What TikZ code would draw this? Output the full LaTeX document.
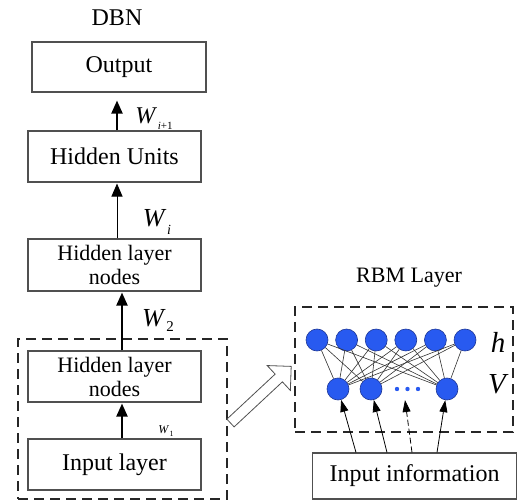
\documentclass[tikz,border=0pt]{standalone}
\usepackage{fontspec}
\setmainfont{Liberation Serif}
\usetikzlibrary{arrows.meta, positioning, calc}

\definecolor{unitblue}{RGB}{40,90,240}
\definecolor{unitedge}{RGB}{30,55,150}
\definecolor{boxgray}{RGB}{80,80,80}

% weight label: W size, subscript, subscript size, drop
\newcommand{\wlabel}[4]{\fontsize{#1}{#1}\selectfont\textit{W}\kern0.5pt\raisebox{-#4pt}{\fontsize{#3}{#3}\selectfont#2}}

\begin{document}
\begin{tikzpicture}[
    x=1pt, y=-1pt,
    layer/.style={rectangle, draw=boxgray, line width=1.1pt, minimum width=173pt, minimum height=51pt, inner sep=0pt, align=center, font=\fontsize{24}{26}\selectfont},
    twoline/.style={layer, font=\fontsize{22}{24}\selectfont},
    frame/.style={rectangle, draw=black!85, line width=2pt, dash pattern=on 10pt off 6pt, inner sep=0pt},
    uparrow/.style={-{Triangle[length=13pt, width=11pt]}, line width=2pt},
    thinup/.style={-{Triangle[length=13pt, width=11pt]}, line width=1pt},
    unit/.style={circle, draw=unitedge, fill=unitblue, minimum size=22pt, inner sep=0pt, line width=0.6pt},
    link/.style={line width=0.6pt, draw=black!80},
    feed/.style={-{Triangle[length=12pt, width=8pt]}, line width=0.8pt},
    title/.style={font=\fontsize{22}{24}\selectfont}
]
\useasboundingbox (0,0) rectangle (519,502);

% DBN stack
\node[title, font=\fontsize{24}{26}\selectfont] (dbn) at (117,18) {DBN};
\node[layer, minimum width=174pt, minimum height=50pt] (out) at (119,67) {Output};
\node[layer] (units) at (114.5,156.5) {Hidden Units};
\node[twoline, minimum height=52pt] (hid2) at (114.5,265) {Hidden layer\\nodes};
\node[twoline] (hid1) at (114.5,376.5) {Hidden layer\\nodes};
\node[layer] (inp) at (114.5,464.5) {Input layer};
\node[frame, minimum width=209pt, minimum height=160pt] (dbnbox) at (122.5,419) {};

\draw[uparrow] ([xshift=2.5pt]units.north) -- ([xshift=-2pt, yshift=-8pt]out.south);
\draw[thinup] ([xshift=2.5pt]hid2.north) -- ([xshift=2.5pt, yshift=-1pt]units.south);
\draw[uparrow] ([xshift=7.5pt]hid1.north) -- ([xshift=7.5pt, yshift=-1pt]hid2.south);
\draw[uparrow] ([xshift=7.5pt]inp.north) -- ([xshift=7.5pt, yshift=-1pt]hid1.south);

\node (wnext) at (154,119) {\wlabel{24}{\textit{i}+1}{11}{6}};
\node (wi) at (157,222) {\wlabel{26}{\textit{i}}{14}{8}};
\node (wtwo) at (158,320) {\wlabel{26}{2}{15}{5}};
\node (wone) at (166,431) {\wlabel{12}{1}{8}{3}};

% link to RBM
\coordinate (bigtail) at (230.5,423);
\begin{scope}[shift={(bigtail)}, rotate=43]
    \draw[draw=boxgray, fill=white, line width=0.8pt]
        (0,-5.3) -- (66,-5.3) -- (66,-17) -- (83,0) -- (66,17) -- (66,5.3) -- (0,5.3) -- cycle;
\end{scope}

% RBM layer
\node[title] (rbmtitle) at (409,278) {RBM Layer};
\node[frame, minimum width=218pt, minimum height=125pt] (rbmbox) at (404,369.5) {};

\foreach \x [count=\i] in {317,346.6,376.2,405.8,435.4,465}
    \node[unit] (h\i) at (\x,340) {};
\foreach \x [count=\j] in {338,371,447}
    \node[unit] (v\j) at (\x,389) {};
\foreach \i in {1,...,6}
    \foreach \j in {1,2,3}
        \draw[link] (h\i) -- (v\j);
\foreach \x in {397,407.5,418}
    \fill[unitblue] (\x,389) circle (2.2pt);

\node[font=\fontsize{29}{30}\selectfont\itshape] (hlab) at (498,342) {h};
\node[font=\fontsize{29}{30}\selectfont\itshape] (vlab) at (497,384) {V};

\node[layer, minimum width=204pt, minimum height=46pt] (info) at (414.5,476) {Input information};
\coordinate (dotsin) at (405,400);

\draw[feed] ([xshift=-58.5pt]info.north) -- (v1);
\draw[feed] ([xshift=-27.5pt]info.north) -- (v2);
\draw[feed, dash pattern=on 6pt off 3pt] ([xshift=-2.5pt]info.north) -- (dotsin);
\draw[feed] ([xshift=22.5pt]info.north) -- (v3);
\end{tikzpicture}
\end{document}
